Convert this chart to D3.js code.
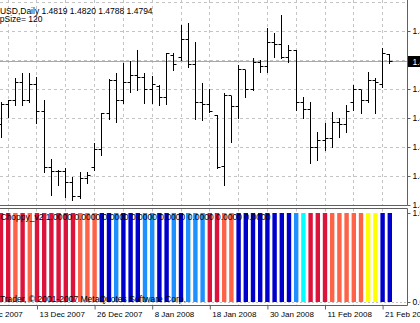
<!DOCTYPE html>
<html>
<head>
<meta charset="utf-8">
<script src="https://cdnjs.cloudflare.com/ajax/libs/d3/7.8.5/d3.min.js"></script>
<style>
  body { margin: 0; background: #fff; overflow: hidden; }
  text { font-family: "Liberation Sans", Arial, sans-serif; }
</style>
</head>
<body>
<svg id="canvas"></svg>
<script>
// Daily OHLC, EURUSD (55 bars, oldest first)
var open = [1.4576, 1.4645, 1.4662, 1.4724, 1.4662, 1.4717, 1.4621, 1.4431, 1.4414, 1.4414,
  1.4379, 1.4328, 1.4390, 1.4428, 1.4490, 1.4617, 1.4728, 1.4662, 1.4724, 1.4748,
  1.4738, 1.4700, 1.4710, 1.4669, 1.4817, 1.4807, 1.4869, 1.4783, 1.4655, 1.4648,
  1.4607, 1.4434, 1.4676, 1.4638, 1.4766, 1.4697, 1.4793, 1.4776, 1.4859, 1.4852,
  1.4807, 1.4834, 1.4652, 1.4631, 1.4500, 1.4524, 1.4528, 1.4583, 1.4576, 1.4655,
  1.4697, 1.4662, 1.4731, 1.4714, 1.4819];
var high = [1.4655, 1.4662, 1.4738, 1.4755, 1.4755, 1.4741, 1.4662, 1.4459, 1.4421, 1.4428,
  1.4397, 1.4414, 1.4414, 1.4514, 1.4617, 1.4734, 1.4755, 1.4790, 1.4797, 1.4834,
  1.4755, 1.4745, 1.4714, 1.4824, 1.4824, 1.4921, 1.4928, 1.4862, 1.4721, 1.4700,
  1.4610, 1.4686, 1.4676, 1.4783, 1.4766, 1.4807, 1.4800, 1.4910, 1.4893, 1.4955,
  1.4852, 1.4834, 1.4672, 1.4655, 1.4552, 1.4583, 1.4621, 1.4600, 1.4645, 1.4714,
  1.4697, 1.4759, 1.4738, 1.4841, 1.4820];
var low = [1.4534, 1.4603, 1.4645, 1.4645, 1.4655, 1.4583, 1.4414, 1.4334, 1.4369, 1.4328,
  1.4317, 1.4324, 1.4376, 1.4421, 1.4472, 1.4597, 1.4586, 1.4652, 1.4690, 1.4697,
  1.4652, 1.4652, 1.4645, 1.4648, 1.4766, 1.4800, 1.4776, 1.4597, 1.4593, 1.4621,
  1.4428, 1.4369, 1.4517, 1.4600, 1.4672, 1.4697, 1.4759, 1.4759, 1.4810, 1.4807,
  1.4793, 1.4628, 1.4600, 1.4445, 1.4455, 1.4490, 1.4500, 1.4534, 1.4552, 1.4628,
  1.4617, 1.4655, 1.4617, 1.4707, 1.4788];
var close = [1.4645, 1.4662, 1.4724, 1.4662, 1.4717, 1.4621, 1.4431, 1.4414, 1.4414, 1.4379,
  1.4328, 1.4390, 1.4403, 1.4490, 1.4617, 1.4728, 1.4662, 1.4724, 1.4748, 1.4738,
  1.4700, 1.4714, 1.4669, 1.4821, 1.4783, 1.4872, 1.4783, 1.4655, 1.4648, 1.4624,
  1.4431, 1.4676, 1.4638, 1.4766, 1.4697, 1.4793, 1.4776, 1.4859, 1.4852, 1.4807,
  1.4834, 1.4652, 1.4631, 1.4500, 1.4524, 1.4528, 1.4583, 1.4576, 1.4621, 1.4697,
  1.4662, 1.4731, 1.4721, 1.4824, 1.4794];

// Choppy_v2 histogram: every bar is 1.0, the colour carries the state
var choppyValue = [1, 1, 1, 1, 1, 1, 1, 1, 1, 1, 1, 1, 1, 1, 1, 1, 1, 1, 1, 1,
  1, 1, 1, 1, 1, 1, 1, 1, 1, 1, 1, 1, 1, 1, 1, 1, 1, 1, 1, 1,
  1, 1, 1, 1, 1, 1, 1, 1, 1, 1, 1, 1, 1, 1, 1];
var choppyState = ['red', 'red', 'orange', 'red', 'orange', 'red', 'red', 'red', 'red', 'red',
  'red', 'orange', 'orange', 'orange', 'blue', 'blue', 'dodger', 'blue', 'blue', 'blue',
  'dodger', 'dodger', 'blue', 'blue', 'dodger', 'blue', 'dodger', 'dodger', 'dodger', 'red',
  'red', 'orange', 'orange', 'blue', 'blue', 'blue', 'blue', 'blue', 'blue', 'blue',
  'blue', 'dodger', 'aqua', 'red', 'red', 'red', 'orange', 'orange', 'orange', 'orange',
  'orange', 'yellow', 'yellow', 'blue', 'blue'];

// Axis labels
var dateBars = [-3, 5, 13, 21, 29, 37, 45, 53];
var dateLabels = ['3 Dec 2007', '13 Dec 2007', '26 Dec 2007', '8 Jan 2008', '18 Jan 2008',
  '30 Jan 2008', '11 Feb 2008', '21 Feb 2008'];
var priceTicks = [1.43, 1.44, 1.45, 1.46, 1.47, 1.48, 1.49];
var gridPrices = [1.44, 1.45, 1.46, 1.47, 1.48, 1.49, 1.50];
var gridBars = [1, 5, 9, 13, 17, 21, 25, 29, 33, 37, 41, 45, 49, 53];
var indTicks = [0, 1];

var titleText = 'EURUSD,Daily  1.4819 1.4820 1.4788 1.4794';
var paramText = 'StepSize= 120';
var indText = 'Choppy_v2 1.0000 0.0000 0.0000 0.0000 0.0000 0.0000 0.0000 0.0000';
var copyText = 'MetaTrader, \u00a9 2001-2007 MetaQuotes Software Corp.';

var canvasWidth = 420;
var canvasHeight = 323;
var plotRight = 407.5;
var mainBottom = 205.5;
var indTop = 208.5;
var indBottom = 305.5;
var gridColor = '#c4c4c4';
var frameColor = '#606060';

var colorOf = d3.scaleOrdinal()
  .domain(['red', 'orange', 'blue', 'dodger', 'aqua', 'yellow'])
  .range(['#DC143C', '#FF6347', '#0000CD', '#1E90FF', '#00FFFF', '#FFFF00']);

var svg = d3.select('#canvas')
  .attr('width', canvasWidth)
  .attr('height', canvasHeight);

var x = d3.scaleLinear().domain([0, 54]).range([1, 389.8]);
var y = d3.scaleLinear().domain([1.43, 1.50]).range([205, 2]);
var yInd = d3.scaleLinear().domain([0, 1]).range([302, 213]);

function px(v) {
  return Math.round(v - 0.5) + 0.5;
}

// Main window grid
var grid = svg.append('g').attr('stroke', gridColor).attr('stroke-dasharray', '3,3');
grid.selectAll('.vgrid')
  .data(gridBars)
  .enter()
  .append('line')
  .attr('x1', function(d) { return px(x(d)); })
  .attr('x2', function(d) { return px(x(d)); })
  .attr('y1', 0)
  .attr('y2', mainBottom);
grid.selectAll('.vgrid2')
  .data(gridBars)
  .enter()
  .append('line')
  .attr('x1', function(d) { return px(x(d)); })
  .attr('x2', function(d) { return px(x(d)); })
  .attr('y1', indTop)
  .attr('y2', indBottom);
grid.selectAll('.hgrid')
  .data(gridPrices)
  .enter()
  .append('line')
  .attr('x1', 0)
  .attr('x2', plotRight)
  .attr('y1', function(d) { return px(y(d)); })
  .attr('y2', function(d) { return px(y(d)); });

// Bid line
svg.append('line')
  .attr('x1', 0)
  .attr('x2', plotRight)
  .attr('y1', px(y(close[close.length - 1])))
  .attr('y2', px(y(close[close.length - 1])))
  .attr('stroke', '#a8a8a8');

// OHLC bars
var ohlc = svg.append('g')
  .attr('stroke', '#000')
  .selectAll('g')
  .data(d3.range(open.length))
  .enter()
  .append('g');

ohlc.append('line')
  .attr('x1', function(i) { return px(x(i)); })
  .attr('x2', function(i) { return px(x(i)); })
  .attr('y1', function(i) { return Math.round(y(high[i])); })
  .attr('y2', function(i) { return Math.round(y(low[i])) + 1; });

ohlc.append('line')
  .attr('x1', function(i) { return px(x(i)) - 3; })
  .attr('x2', function(i) { return px(x(i)); })
  .attr('y1', function(i) { return px(y(open[i])); })
  .attr('y2', function(i) { return px(y(open[i])); });

ohlc.append('line')
  .attr('x1', function(i) { return px(x(i)); })
  .attr('x2', function(i) { return px(x(i)) + 3; })
  .attr('y1', function(i) { return px(y(close[i])); })
  .attr('y2', function(i) { return px(y(close[i])); });

// Indicator zero level
svg.append('line')
  .attr('x1', 0)
  .attr('x2', plotRight)
  .attr('y1', px(yInd(0)))
  .attr('y2', px(yInd(0)))
  .attr('stroke', gridColor)
  .attr('stroke-dasharray', '2,2');

// Choppy histogram
svg.append('g')
  .selectAll('rect')
  .data(d3.range(choppyValue.length))
  .enter()
  .append('rect')
  .attr('x', function(i) { return x(i) - 2.2; })
  .attr('width', 4.4)
  .attr('y', function(i) { return yInd(choppyValue[i]); })
  .attr('height', function(i) { return yInd(0) - yInd(choppyValue[i]); })
  .attr('fill', function(i) { return colorOf(choppyState[i]); });

// Window frames
var frame = svg.append('g').attr('stroke', frameColor).attr('fill', 'none');
frame.append('line').attr('x1', 0).attr('x2', plotRight).attr('y1', mainBottom).attr('y2', mainBottom);
frame.append('line').attr('x1', 0).attr('x2', plotRight).attr('y1', indTop).attr('y2', indTop);
frame.append('line').attr('x1', 0).attr('x2', plotRight).attr('y1', indBottom).attr('y2', indBottom);
frame.append('line').attr('x1', plotRight).attr('x2', plotRight).attr('y1', 0).attr('y2', mainBottom);
frame.append('line').attr('x1', plotRight).attr('x2', plotRight).attr('y1', indTop).attr('y2', indBottom);

// Price axis
var priceAxis = svg.append('g')
  .attr('transform', 'translate(' + plotRight + ',0)')
  .call(d3.axisRight(y).tickValues(priceTicks).tickFormat(d3.format('.4f')).tickSize(3).tickPadding(2));
priceAxis.select('.domain').remove();
priceAxis.selectAll('line').attr('stroke', frameColor);
priceAxis.selectAll('text').attr('font-size', 8.5).attr('font-family', null).attr('fill', '#000');

// Bid label
var bidY = y(close[close.length - 1]);
svg.append('rect')
  .attr('x', plotRight + 0.5)
  .attr('y', Math.round(bidY) - 6)
  .attr('width', 14)
  .attr('height', 11)
  .attr('fill', '#000');
svg.append('text')
  .attr('x', plotRight + 5)
  .attr('y', bidY + 3)
  .attr('font-size', 8.5)
  .attr('fill', '#fff')
  .text(d3.format('.4f')(close[close.length - 1]));

// Indicator axis
var indAxis = svg.append('g')
  .attr('transform', 'translate(' + plotRight + ',0)')
  .call(d3.axisRight(yInd).tickValues(indTicks).tickFormat(d3.format('.4f')).tickSize(3).tickPadding(2));
indAxis.select('.domain').remove();
indAxis.selectAll('line').attr('stroke', frameColor);
indAxis.selectAll('text').attr('font-size', 8.5).attr('font-family', null).attr('fill', '#000');

// Date axis
var dateAxis = svg.append('g')
  .attr('transform', 'translate(0,' + indBottom + ')')
  .call(d3.axisBottom(x).tickValues(dateBars).tickFormat(function(d, i) {
    return dateLabels[i];
  }).tickSize(4));
dateAxis.select('.domain').remove();
dateAxis.selectAll('line').attr('stroke', frameColor);
dateAxis.selectAll('text')
  .attr('text-anchor', 'start')
  .attr('x', 2)
  .attr('y', 11.5)
  .attr('dy', null)
  .attr('font-size', 8)
  .attr('font-family', null)
  .attr('fill', '#000');

// Window labels
svg.append('text').attr('x', -18).attr('y', 14).attr('font-size', 8.5).text(titleText);
svg.append('text').attr('x', -13).attr('y', 22).attr('font-size', 8.5).text(paramText);
svg.append('text').attr('x', 0.5).attr('y', 219.5).attr('font-size', 8.5).text(indText);
svg.append('text').attr('x', -19).attr('y', 302).attr('font-size', 8.5).text(copyText);
</script>
</body>
</html>
